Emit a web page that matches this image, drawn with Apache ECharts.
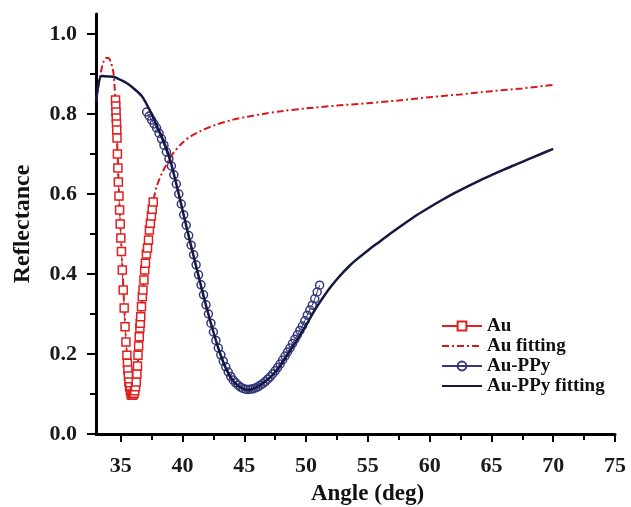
<!DOCTYPE html>
<html>
<head>
<meta charset="utf-8">
<script src="https://cdn.jsdelivr.net/npm/echarts@6/dist/echarts.min.js"></script>
<style>
  html, body { margin: 0; padding: 0; background: #fff; }
  #chart { width: 631px; height: 507px; }
</style>
</head>
<body>
<div id="chart"></div>
<script>
// Au 测量点 (angle, reflectance)
const auAngle = [34.58, 34.60, 34.62, 34.64, 34.66, 34.68, 34.70, 34.73, 34.77, 34.81, 34.86, 34.91, 34.96, 35.01, 35.06, 35.13, 35.20, 35.28, 35.35, 35.42, 35.50, 35.54, 35.58, 35.62, 35.66, 35.72, 35.78, 35.84, 35.90, 35.96, 36.02, 36.08, 36.14,
  36.20, 36.26, 36.31, 36.36, 36.40, 36.45, 36.50, 36.55, 36.58, 36.62, 36.68, 36.75, 36.80, 36.88, 36.94, 37.00, 37.08, 37.17, 37.25, 37.32, 37.40, 37.48, 37.55, 37.63]
const auRefl = [0.835, 0.82, 0.805, 0.79, 0.775, 0.76, 0.74, 0.70, 0.665, 0.63, 0.595, 0.56, 0.525, 0.49, 0.456, 0.41, 0.36, 0.315, 0.268, 0.23, 0.197, 0.177, 0.16, 0.145, 0.13, 0.118, 0.108, 0.10, 0.097, 0.097, 0.10, 0.102, 0.108,
  0.118, 0.13, 0.15, 0.17, 0.197, 0.22, 0.243, 0.265, 0.277, 0.293, 0.318, 0.343, 0.36, 0.385, 0.41, 0.427, 0.45, 0.465, 0.485, 0.51, 0.527, 0.545, 0.562, 0.58]

// Au fitting
const auFitAngle = [33.0, 33.2, 33.4, 33.6, 33.8, 34.0, 34.2, 34.4, 34.5, 34.58, 34.7, 34.9, 35.1, 35.3, 35.5, 35.7, 35.9, 36.1, 36.3, 36.5, 36.7, 36.9, 37.1, 37.3, 37.6, 37.9, 38.4, 39.2, 40.0, 40.6, 41.5, 42.7, 44.0, 45.2, 46.5, 48.0, 50.0, 52.5, 55.0, 57.5, 60.0, 62.5, 65.0, 67.5, 70.0]
const auFitRefl = [0.83, 0.87, 0.905, 0.93, 0.94, 0.94, 0.93, 0.905, 0.87, 0.835, 0.74, 0.575, 0.44, 0.31, 0.2, 0.12, 0.097, 0.105, 0.14, 0.243, 0.325, 0.39, 0.45, 0.505, 0.575, 0.618, 0.656, 0.70, 0.728, 0.743, 0.758, 0.773, 0.785, 0.793, 0.80, 0.807, 0.814, 0.821, 0.827, 0.834, 0.842, 0.849, 0.857, 0.864, 0.873]

// Au-PPy 测量点
const ppyAngle = [37.1, 37.3, 37.5, 37.7, 37.9, 38.1, 38.3, 38.5, 38.7, 38.9, 39.1, 39.3, 39.5, 39.7, 39.9, 40.1, 40.3, 40.5, 40.7, 40.9, 41.1, 41.3, 41.5, 41.7, 41.9, 42.1, 42.3, 42.5, 42.7, 42.9, 43.1, 43.3, 43.5, 43.7, 43.9, 44.1, 44.3, 44.5, 44.7, 44.9, 45.1, 45.3, 45.5, 45.7, 45.9, 46.1, 46.3, 46.5, 46.7, 46.9, 47.1, 47.3, 47.5, 47.7, 47.9, 48.1, 48.3, 48.5, 48.7, 48.9, 49.1, 49.3, 49.5, 49.7, 49.9, 50.1, 50.3, 50.5, 50.7, 50.9, 51.1]
const ppyRefl = [0.805, 0.795, 0.785, 0.775, 0.765, 0.752, 0.738, 0.722, 0.705, 0.688, 0.67, 0.648, 0.625, 0.6, 0.575, 0.548, 0.522, 0.496, 0.472, 0.448, 0.423, 0.398, 0.373, 0.348, 0.323, 0.3, 0.277, 0.255, 0.234, 0.215, 0.198, 0.182, 0.168, 0.155, 0.144, 0.135, 0.128, 0.122, 0.117, 0.114, 0.112, 0.111, 0.112, 0.113, 0.115, 0.118, 0.122, 0.126, 0.131, 0.137, 0.143, 0.15, 0.158, 0.166, 0.175, 0.185, 0.195, 0.205, 0.215, 0.226, 0.237, 0.248, 0.259, 0.27, 0.283, 0.297, 0.31, 0.322, 0.338, 0.355, 0.372]

// Au-PPy fitting
const ppyFitAngle = [33.0, 33.45, 34.0, 34.5, 35.0, 35.6, 36.2, 36.7, 37.0, 37.5, 38.0, 38.5, 39.0, 39.5, 40.0, 40.5, 41.0, 41.5, 42.0, 42.5, 43.0, 43.5, 44.0, 44.5, 45.0, 45.3, 45.6, 46.0, 46.5, 47.0, 47.5, 48.0, 48.5, 49.0, 49.5, 50.0, 50.5, 51.0, 51.5, 52.0, 52.5, 53.0, 53.5, 54.0, 55.0, 56.0, 57.0, 58.0, 59.0, 60.0, 61.0, 62.0, 63.0, 64.0, 65.0, 66.0, 67.0, 68.0, 69.0, 70.0]
const ppyFitRefl = [0.83, 0.895, 0.894, 0.892, 0.885, 0.875, 0.86, 0.845, 0.83, 0.80, 0.765, 0.73, 0.685, 0.625, 0.56, 0.495, 0.432, 0.37, 0.31, 0.255, 0.205, 0.165, 0.137, 0.12, 0.112, 0.11, 0.112, 0.117, 0.127, 0.139, 0.155, 0.175, 0.198, 0.222, 0.247, 0.272, 0.299, 0.324, 0.347, 0.368, 0.387, 0.404, 0.42, 0.434, 0.459, 0.482, 0.505, 0.527, 0.548, 0.567, 0.585, 0.602, 0.618, 0.633, 0.647, 0.661, 0.674, 0.687, 0.70, 0.713]

const xMajor = [35, 40, 45, 50, 55, 60, 65, 70, 75]
const xMinor = [37.5, 42.5, 47.5, 52.5, 57.5, 62.5, 67.5, 72.5]
const yMajor = [0, 0.2, 0.4, 0.6, 0.8, 1.0]
const yMinor = [0.1, 0.3, 0.5, 0.7, 0.9]

const pairs = (xs, ys) => xs.map((x, i) => [x, ys[i]])

const font = 'Liberation Serif, Times New Roman, serif'
const labelStyle = { fontFamily: font, fontWeight: 'bold', fontSize: 22, color: '#1a1a1a' }

const chart = echarts.init(document.getElementById('chart'))
chart.setOption({
  animation: false,
  backgroundColor: '#fff',
  grid: { left: 96, right: 16, top: 14, bottom: 73, outerBoundsMode: 'none' },
  legend: {
    orient: 'vertical',
    left: 441,
    top: 316,
    padding: 0,
    itemWidth: 40,
    itemHeight: 11,
    itemGap: 0,
    textStyle: { fontFamily: font, fontWeight: 'bold', fontSize: 19, color: '#111', lineHeight: 20 },
    data: [
      'Au',
      { name: 'Au fitting', itemStyle: { opacity: 0 } },
      'Au-PPy',
      { name: 'Au-PPy fitting', itemStyle: { opacity: 0 } }
    ]
  },
  xAxis: [
    {
      type: 'value', min: 33, max: 75,
      name: 'Angle (deg)', nameLocation: 'middle', nameGap: 49,
      nameTextStyle: { fontFamily: font, fontWeight: 'bold', fontSize: 23, color: '#111', padding: [0, 0, 0, 24] },
      axisLine: { lineStyle: { color: '#000', width: 3 } },
      axisTick: { customValues: xMajor, length: 8, lineStyle: { color: '#000', width: 2 } },
      axisLabel: Object.assign({ customValues: xMajor, margin: 21 }, labelStyle),
      splitLine: { show: false }
    },
    {
      type: 'value', min: 33, max: 75, position: 'bottom',
      axisLine: { show: false },
      axisTick: { customValues: xMinor, length: 6, lineStyle: { color: '#000', width: 2 } },
      axisLabel: { show: false },
      splitLine: { show: false }
    }
  ],
  yAxis: [
    {
      type: 'value', min: 0, max: 1.05,
      name: 'Reflectance', nameLocation: 'middle', nameGap: 61,
      nameTextStyle: { fontFamily: font, fontWeight: 'bold', fontSize: 24, color: '#111' },
      axisLine: { show: true, lineStyle: { color: '#000', width: 3 } },
      axisTick: { show: true, customValues: yMajor, length: 9, lineStyle: { color: '#000', width: 2 } },
      axisLabel: Object.assign({ customValues: yMajor, margin: 19, formatter: v => v.toFixed(1) }, labelStyle),
      splitLine: { show: false }
    },
    {
      type: 'value', min: 0, max: 1.05, position: 'left',
      axisLine: { show: false },
      axisTick: { show: true, customValues: yMinor, length: 6, lineStyle: { color: '#000', width: 2 } },
      axisLabel: { show: false },
      splitLine: { show: false }
    }
  ],
  series: [
    {
      name: 'Au fitting', type: 'line', data: pairs(auFitAngle, auFitRefl),
      symbol: 'none', smooth: 0.3, z: 2,
      lineStyle: { color: '#d81818', width: 2, type: [7, 3, 2, 3] },
      itemStyle: { color: '#d81818' }
    },
    {
      name: 'Au', type: 'line', data: pairs(auAngle, auRefl),
      symbol: 'rect', symbolSize: 8, z: 3,
      lineStyle: { color: '#e02020', width: 1 },
      itemStyle: { color: '#fff', borderColor: '#e02020', borderWidth: 1.5 }
    },
    {
      name: 'Au-PPy', type: 'line', data: pairs(ppyAngle, ppyRefl),
      symbol: 'circle', symbolSize: 8, z: 4,
      lineStyle: { color: '#35387e', width: 1 },
      itemStyle: { color: 'rgba(255,255,255,0)', borderColor: '#35387e', borderWidth: 1.5 }
    },
    {
      name: 'Au-PPy fitting', type: 'line', data: pairs(ppyFitAngle, ppyFitRefl),
      symbol: 'none', smooth: 0.3, z: 5,
      lineStyle: { color: '#16173f', width: 2.5 },
      itemStyle: { color: '#16173f' }
    }
  ]
})
</script>
</body>
</html>
